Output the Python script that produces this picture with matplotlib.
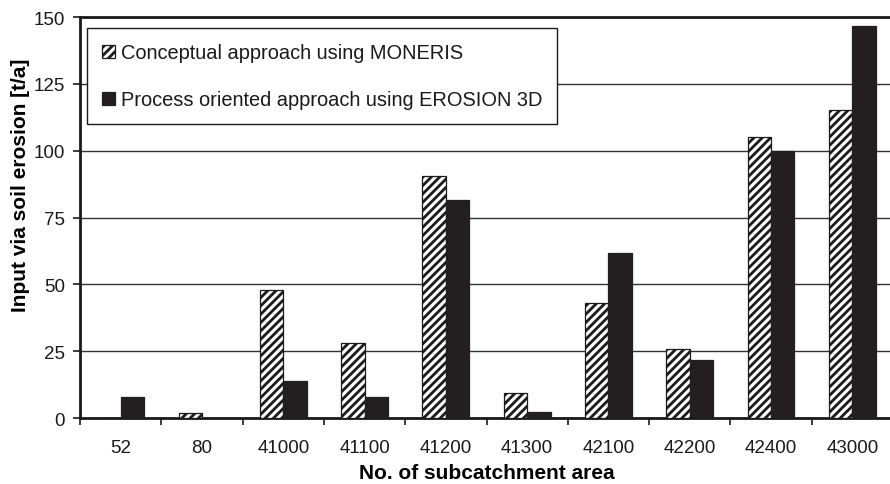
import matplotlib
matplotlib.use("Agg")
import matplotlib.pyplot as plt
import numpy as np

plt.rcParams['font.family'] = ['Liberation Sans', 'DejaVu Sans']
plt.rcParams['hatch.linewidth'] = 2.0
plt.rcParams['hatch.color'] = '#1a1a1a'

subcatchments = ['52', '80', '41000', '41100', '41200', '41300', '42100', '42200', '42400', '43000']
moneris = [0, 2, 48, 28, 90.5, 9.5, 43, 25.7, 105, 115.3]
erosion3d = [8, 0, 13.7, 8, 81.5, 2.4, 61.8, 21.7, 100, 146.5]
yticks = [0, 25, 50, 75, 100, 125, 150]

fig = plt.figure(figsize=(8.9, 4.85), dpi=100)
ax = fig.add_axes([80 / 890, 1 - 419 / 485, 813 / 890, 401 / 485])

x = np.arange(len(subcatchments))
w = 0.288
ax.bar(x - w / 2, moneris, w, color='white', edgecolor='#1a1a1a', hatch='////',
       linewidth=0.9, label='Conceptual approach using MONERIS', zorder=3)
ax.bar(x + w / 2, erosion3d, w, color='#231f20', edgecolor='#231f20',
       linewidth=0.9, label='Process oriented approach using EROSION 3D', zorder=3)

ax.set_xlim(-0.5, len(subcatchments) - 0.5)
ax.set_ylim(0, 150)
ax.set_yticks(yticks)
ax.set_yticklabels([str(v) for v in yticks], fontsize=13.5, color='#1a1a1a')
ax.set_xticks(x)
ax.set_xticklabels(subcatchments, fontsize=13.5, color='#1a1a1a')
ax.set_xticks(np.arange(len(subcatchments) + 1) - 0.5, minor=True)
ax.tick_params(axis='x', which='major', length=0, pad=15)
ax.tick_params(axis='x', which='minor', length=5, width=1.2, color='#1a1a1a')
ax.tick_params(axis='y', length=5, width=1.2, color='#1a1a1a', pad=6)

ax.yaxis.grid(True, color='#333333', linewidth=1.0, zorder=0)
ax.set_axisbelow(True)

for side in ['left', 'bottom', 'top']:
    ax.spines[side].set_linewidth(2.0)
    ax.spines[side].set_color('#1a1a1a')
ax.spines['right'].set_visible(False)

ax.set_ylabel('Input via soil erosion [t/a]', fontsize=15, fontweight='bold')
ax.yaxis.set_label_coords(-0.061, 0.584)
ax.set_xlabel('No. of subcatchment area', fontsize=15, fontweight='bold', labelpad=5)

leg = ax.legend(loc='upper left', bbox_to_anchor=(0.008, 0.972), borderaxespad=0,
                fontsize=14.4, frameon=True, fancybox=False, shadow=False,
                handlelength=0.65, handleheight=0.65, handletextpad=0.3,
                labelspacing=1.4, borderpad=0.75)
leg.get_frame().set_edgecolor('#1a1a1a')
leg.get_frame().set_linewidth(1.0)
leg.get_frame().set_alpha(1)
for t in leg.get_texts():
    t.set_color('#1a1a1a')

fig.savefig('out.png', dpi=100)
